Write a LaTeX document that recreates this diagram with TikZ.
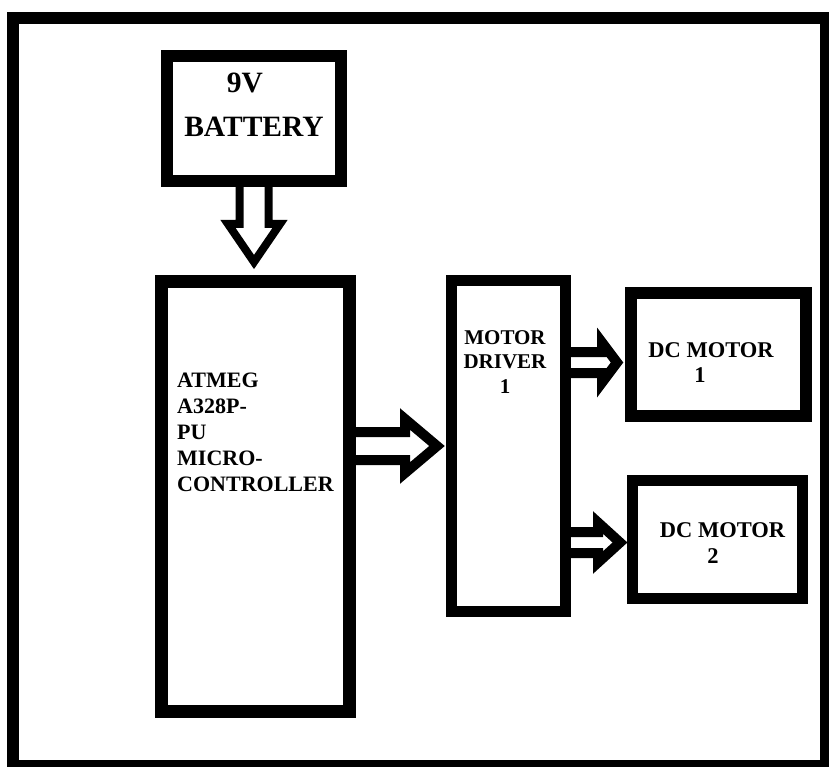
\documentclass[tikz,border=0pt]{standalone}
\usepackage{fontspec}
\setmainfont{Liberation Serif}
\usetikzlibrary{calc,backgrounds}
\begin{document}
\begin{tikzpicture}[x=1pt,y=-1pt,
  box/.style={draw,line width=#1,rectangle,inner sep=0pt,outer sep=0pt},
  barrow/.style={draw,fill=white,line width=#1,line join=miter},
  lbl/.style={inner sep=0pt,font=\fontsize{#1}{#1}\selectfont\bfseries}]
\useasboundingbox (0,0) rectangle (829,767);
% frame and blocks
\node[box=12pt,minimum width=813pt,minimum height=747.5pt] (frame) at (419.5,392.25) {};
\node[box=12pt,minimum width=174pt,minimum height=125pt] (bat) at (254,118.5) {};
\node[box=13pt,minimum width=188pt,minimum height=430pt] (mcu) at (255,496) {};
\node[box=11pt,minimum width=114pt,minimum height=331.5pt] (drv) at (508.5,446) {};
\node[box=12pt,minimum width=175pt,minimum height=123.5pt] (dc1) at (718.5,354.25) {};
\node[box=11pt,minimum width=170pt,minimum height=118pt] (dc2) at (717,539) {};
% labels
\node[lbl=29.5,anchor=base] (batl1) at (245,93) {9V};
\node[lbl=29.5,anchor=base] (batl2) at (254,137) {BATTERY};
\node[lbl=22,font=\fontsize{22}{26}\selectfont\bfseries,align=left,anchor=north west] (mcut) at (177,373)
  {ATMEG\\A328P-\\PU\\MICRO-\\CONTROLLER};
\node[lbl=21,font=\fontsize{21}{24.5}\selectfont\bfseries,align=center,anchor=north] (drvt) at (505,330)
  {MOTOR\\DRIVER\\1};
\node[lbl=22.5,anchor=base] (dc1a) at (711,357) {DC MOTOR};
\node[lbl=22.5,anchor=base] (dc1b) at (700,382) {1};
\node[lbl=22.5,anchor=base] (dc2a) at (722.5,537) {DC MOTOR};
\node[lbl=22.5,anchor=base] (dc2b) at (713,563) {2};
% block arrows
\begin{scope}[on background layer]
\draw[barrow=8pt] let \p1=(bat.south), \p2=($(mcu.north)+(-1,-19)$) in
  (\x2-14.5pt,\y1) -- (\x2-14.5pt,\y2+38pt) -- (\x2-26pt,\y2+38pt) -- (\x2,\y2)
  -- (\x2+26pt,\y2+38pt) -- (\x2+14.5pt,\y2+38pt) -- (\x2+14.5pt,\y1);
\draw[barrow=10pt] let \p1=(mcu.east), \p2=($(drv.west)+(-14.5,0)$) in
  (\x1,\y2+14pt) -- (\x2-32pt,\y2+14pt) -- (\x2-32pt,\y2+27pt) -- (\x2,\y2)
  -- (\x2-32pt,\y2-27pt) -- (\x2-32pt,\y2-14pt) -- (\x1,\y2-14pt);
\draw[barrow=10pt] let \p1=(drv.east), \p2=($(dc1.west)+(-14,8.25)$) in
  (\x1,\y2+10.5pt) -- (\x2-15pt,\y2+10.5pt) -- (\x2-15pt,\y2+20pt) -- (\x2,\y2)
  -- (\x2-15pt,\y2-20pt) -- (\x2-15pt,\y2-10.5pt) -- (\x1,\y2-10.5pt);
\draw[barrow=10pt] let \p1=(drv.east), \p2=($(dc2.west)+(-12,3.5)$) in
  (\x1,\y2+10.5pt) -- (\x2-22pt,\y2+10.5pt) -- (\x2-22pt,\y2+20pt) -- (\x2,\y2)
  -- (\x2-22pt,\y2-20pt) -- (\x2-22pt,\y2-10.5pt) -- (\x1,\y2-10.5pt);
\end{scope}
\end{tikzpicture}
\end{document}
